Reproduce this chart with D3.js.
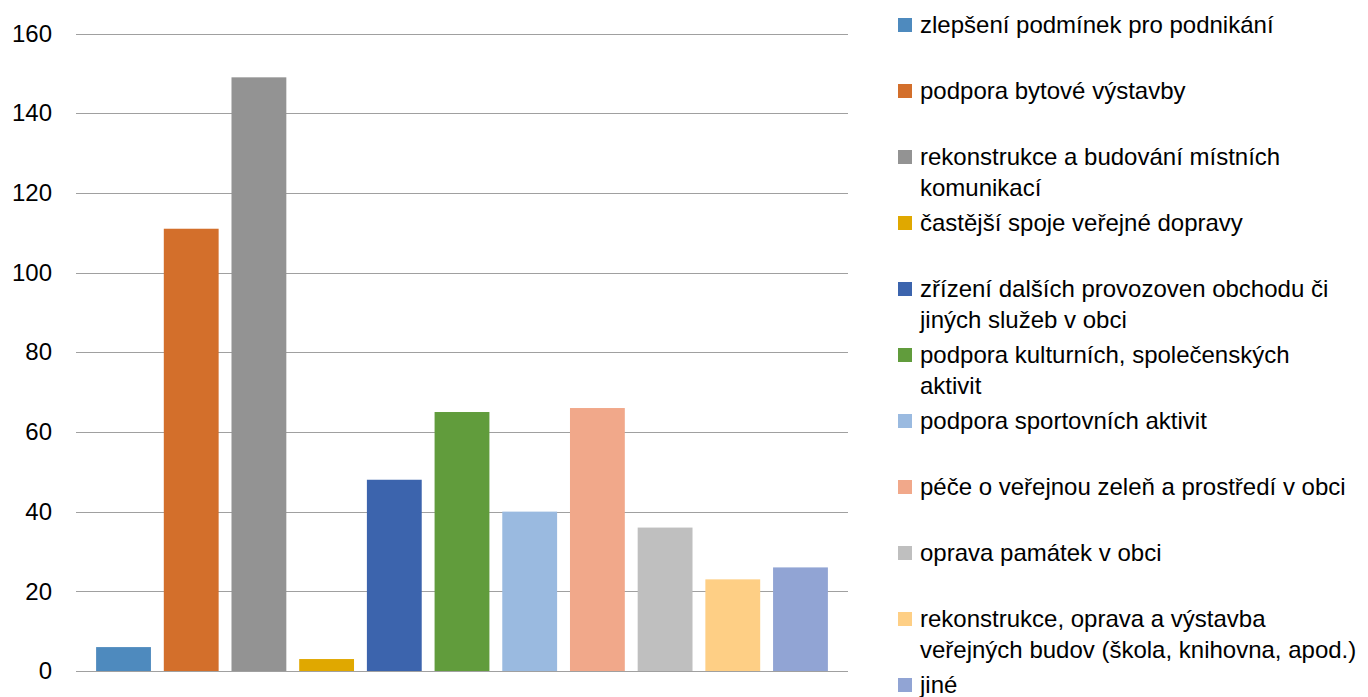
<!DOCTYPE html>
<html>
<head>
<meta charset="utf-8">
<script src="https://cdn.jsdelivr.net/npm/d3@7"></script>
<style>
  html, body { margin: 0; padding: 0; background: #fff; }
  svg { display: block; }
  text { font-family: "Liberation Sans", Arial, sans-serif; fill: #000; }
</style>
</head>
<body>
<svg id="chart" width="1368" height="697"></svg>
<script>
// ---- data ----
const categories = [
  "zlepšení podmínek pro podnikání",
  "podpora bytové výstavby",
  "rekonstrukce a budování místních komunikací",
  "častější spoje veřejné dopravy",
  "zřízení dalších provozoven obchodu či jiných služeb v obci",
  "podpora kulturních, společenských aktivit",
  "podpora sportovních aktivit",
  "péče o veřejnou zeleň a prostředí v obci",
  "oprava památek v obci",
  "rekonstrukce, oprava a výstavba veřejných budov (škola, knihovna, apod.)",
  "jiné"
];
const values = [6, 111, 149, 3, 48, 65, 40, 66, 36, 23, 26];
const colors = ["#4e8abe", "#d36f2b", "#939393", "#e0a800", "#3c64ad", "#619c3c",
                "#9abae0", "#f1a88a", "#bfbfbf", "#fecf85", "#91a4d4"];
const yTicks = [0, 20, 40, 60, 80, 100, 120, 140, 160];

// ---- layout ----
const svg = d3.select("#chart");
const plot = { left: 76, right: 848, top: 33.5, bottom: 671 };
const fontSize = 24;

const x = d3.scaleBand()
  .domain(categories)
  .range([plot.left, plot.right])
  .paddingInner(0.19)
  .paddingOuter(0.297);

const y = d3.scaleLinear()
  .domain([0, 160])
  .range([plot.bottom, plot.top]);

const color = d3.scaleOrdinal().domain(categories).range(colors);

// gridlines
svg.append("g")
  .selectAll("line")
  .data(yTicks)
  .join("line")
  .attr("x1", plot.left).attr("x2", plot.right)
  .attr("y1", d => Math.round(y(d)) + 0.5).attr("y2", d => Math.round(y(d)) + 0.5)
  .attr("stroke", "#a0a0a0")
  .attr("stroke-width", 1);

// y axis labels via d3 axis
const yAxis = d3.axisLeft(y).tickValues(yTicks).tickSize(0).tickPadding(0).tickFormat(d3.format("d"));
const gy = svg.append("g").attr("transform", `translate(${plot.left - 24},0)`).call(yAxis);
gy.select(".domain").remove();
gy.selectAll("text")
  .attr("font-size", fontSize)
  .attr("font-family", "Liberation Sans, Arial, sans-serif")
  .attr("fill", "#000");

// bars
svg.append("g")
  .selectAll("rect")
  .data(categories)
  .join("rect")
  .attr("x", d => x(d))
  .attr("width", x.bandwidth())
  .attr("y", (d, i) => y(values[i]))
  .attr("height", (d, i) => y(0) - y(values[i]))
  .attr("fill", d => color(d));

// legend
const legend = svg.append("g");
const legStartY = 25, legStep = 66, lineH = 31, maxW = 437;
const legX = 898, textX = 920, sw = 14;

categories.forEach((cat, i) => {
  const cy = legStartY + i * legStep;
  legend.append("rect")
    .attr("x", legX).attr("y", cy - sw / 2)
    .attr("width", sw).attr("height", sw)
    .attr("fill", color(cat));
  const t = legend.append("text")
    .attr("font-size", fontSize)
    .attr("x", textX)
    .attr("y", cy + 7.5);
  // word wrap
  const words = cat.split(" ");
  let line = [];
  let ts = t.append("tspan").attr("x", textX).attr("dy", 0);
  words.forEach(w => {
    line.push(w);
    ts.text(line.join(" "));
    if (ts.node().getComputedTextLength() > maxW && line.length > 1) {
      line.pop();
      ts.text(line.join(" "));
      line = [w];
      ts = t.append("tspan").attr("x", textX).attr("dy", lineH).text(w);
    }
  });
});
</script>
</body>
</html>
